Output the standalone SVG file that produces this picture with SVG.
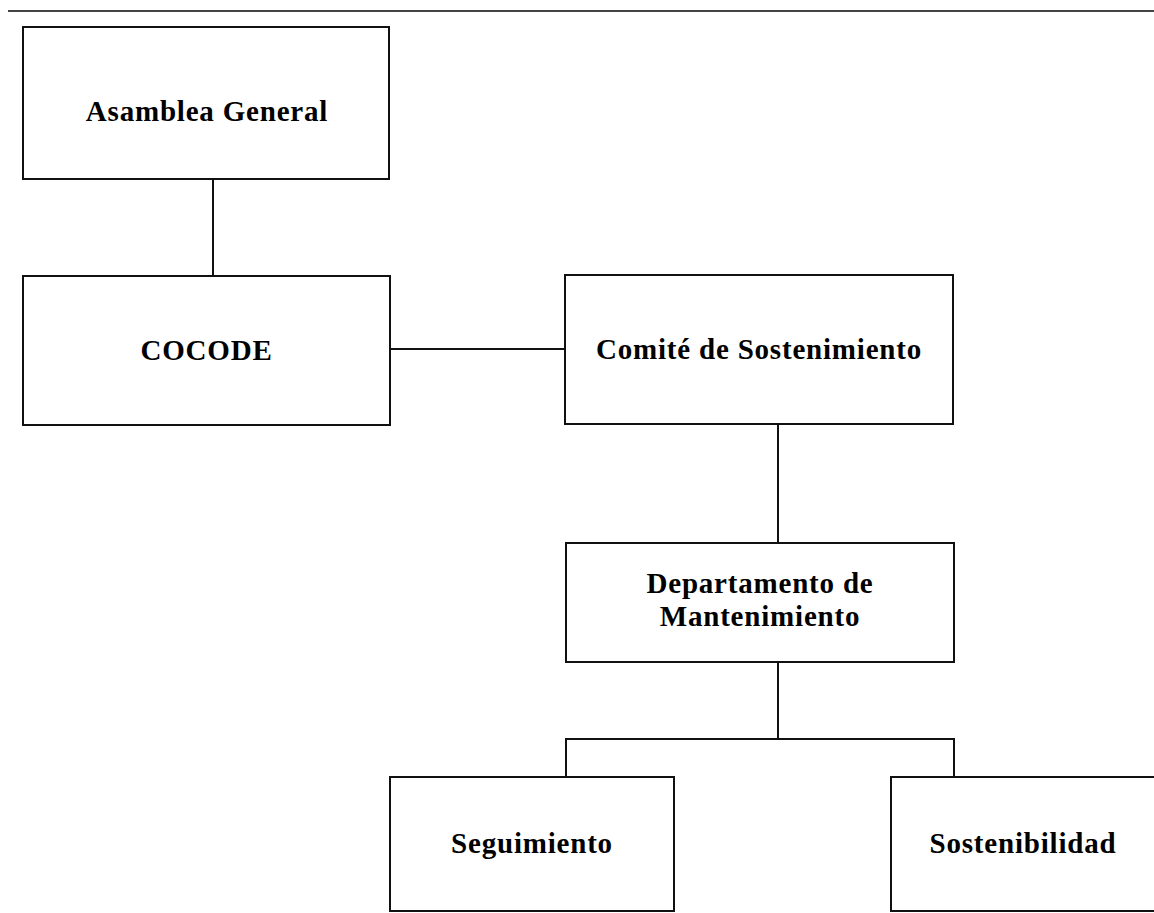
<svg xmlns="http://www.w3.org/2000/svg" width="1154" height="913" viewBox="0 0 1154 913">
  <style>
    .box { fill: #ffffff; stroke: #111111; stroke-width: 2; }
    .lbl { font-family: "Liberation Serif", "Times New Roman", serif; font-weight: bold; font-size: 29px; letter-spacing: 0.8px; fill: #000000; text-anchor: middle; }
    .conn { stroke: #111111; stroke-width: 2; fill: none; }
  </style>
  <rect x="0" y="0" width="1154" height="913" fill="#ffffff"/>
  <line x1="8" y1="11" x2="1154" y2="11" stroke="#444444" stroke-width="2"/>
  <g id="connectors">
    <line class="conn" x1="213" y1="179" x2="213" y2="276"/>
    <line class="conn" x1="390" y1="349" x2="565" y2="349"/>
    <line class="conn" x1="778" y1="424" x2="778" y2="543"/>
    <line class="conn" x1="778" y1="662" x2="778" y2="739"/>
    <polyline class="conn" points="566,777 566,739 954,739 954,777"/>
  </g>
  <g id="asamblea">
    <rect class="box" x="23" y="27" width="366" height="152"/>
    <text class="lbl" x="207" y="121">Asamblea General</text>
  </g>
  <g id="cocode">
    <rect class="box" x="23" y="276" width="367" height="149"/>
    <text class="lbl" x="206.5" y="360">COCODE</text>
  </g>
  <g id="comite">
    <rect class="box" x="565" y="275" width="388" height="149"/>
    <text class="lbl" x="759" y="359">Comité de Sostenimiento</text>
  </g>
  <g id="departamento">
    <rect class="box" x="566" y="543" width="388" height="119"/>
    <text class="lbl" x="760" y="593">Departamento de</text>
    <text class="lbl" x="760" y="626">Mantenimiento</text>
  </g>
  <g id="seguimiento">
    <rect class="box" x="390" y="777" width="284" height="134"/>
    <text class="lbl" x="532" y="853">Seguimiento</text>
  </g>
  <g id="sostenibilidad">
    <rect class="box" x="891" y="777" width="270" height="134"/>
    <text class="lbl" x="1023" y="853">Sostenibilidad</text>
  </g>
</svg>
